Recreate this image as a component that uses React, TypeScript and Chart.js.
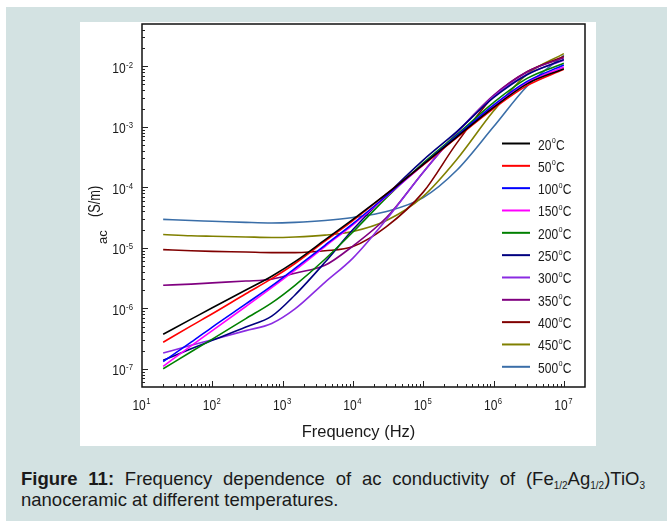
import React, { useEffect, useRef } from 'react';
import { Chart, registerables } from 'chart.js';

Chart.register(...registerables);

// ---------------- data ----------------
const frequencies = [20, 50, 100, 300, 700, 1500, 4000, 1e4, 3e4, 1e5, 3e5, 1e6, 3e6, 1e7];

const temperatures = ['20', '50', '100', '150', '200', '250', '300', '350', '400', '450', '500'];

const colors = [
  '#000000', '#ff0000', '#0000ff', '#ff00ff', '#008000', '#000080',
  '#8a2be2', '#800080', '#800000', '#808000', '#3a6ea8',
];

const sigma20 = [3.72e-7, 6.61e-7, 1.02e-6, 2.0e-6, 3.39e-6, 5.89e-6, 1.35e-5, 2.95e-5, 7.76e-5, 2.40e-4, 6.76e-4, 2.09e-3, 5.13e-3, 9.12e-3];
const sigma50 = [2.75e-7, 5.13e-7, 8.13e-7, 1.74e-6, 3.09e-6, 5.50e-6, 1.29e-5, 2.82e-5, 7.76e-5, 2.34e-4, 6.61e-4, 2.0e-3, 4.79e-3, 8.91e-3];
const sigma100 = [1.32e-7, 2.75e-7, 4.90e-7, 1.18e-6, 2.34e-6, 4.57e-6, 1.10e-5, 2.51e-5, 7.24e-5, 2.40e-4, 7.08e-4, 2.29e-3, 5.62e-3, 1.05e-2];
const sigma150 = [1.10e-7, 2.40e-7, 4.27e-7, 1.07e-6, 2.19e-6, 4.27e-6, 1.05e-5, 2.40e-5, 7.08e-5, 2.34e-4, 6.76e-4, 2.19e-3, 5.37e-3, 9.77e-3];
const sigma200 = [1.0e-7, 1.91e-7, 3.09e-7, 6.76e-7, 1.23e-6, 2.40e-6, 6.46e-6, 1.82e-5, 6.76e-5, 2.51e-4, 7.41e-4, 2.51e-3, 6.31e-3, 1.12e-2];
const sigma250 = [1.38e-7, 2.14e-7, 2.95e-7, 4.90e-7, 7.41e-7, 1.66e-6, 5.75e-6, 2.0e-5, 7.41e-5, 2.82e-4, 8.32e-4, 3.02e-3, 7.24e-3, 1.29e-2];
const sigma300 = [1.82e-7, 2.45e-7, 3.02e-7, 4.27e-7, 5.62e-7, 9.77e-7, 2.69e-6, 6.76e-6, 2.95e-5, 1.78e-4, 7.94e-4, 3.16e-3, 7.41e-3, 1.26e-2];
const sigma350 = [2.40e-6, 2.51e-6, 2.63e-6, 2.82e-6, 3.02e-6, 3.80e-6, 5.13e-6, 1.07e-5, 3.16e-5, 1.78e-4, 7.94e-4, 3.31e-3, 8.13e-3, 1.38e-2];
const sigma400 = [9.33e-6, 8.91e-6, 8.71e-6, 8.51e-6, 8.32e-6, 8.32e-6, 8.91e-6, 1.05e-5, 2.24e-5, 8.32e-5, 5.37e-4, 3.16e-3, 8.13e-3, 1.45e-2];
const sigma450 = [1.66e-5, 1.58e-5, 1.55e-5, 1.51e-5, 1.48e-5, 1.51e-5, 1.62e-5, 1.86e-5, 2.82e-5, 7.08e-5, 2.88e-4, 1.82e-3, 7.41e-3, 1.62e-2];
const sigma500 = [2.95e-5, 2.82e-5, 2.75e-5, 2.63e-5, 2.57e-5, 2.63e-5, 2.82e-5, 3.16e-5, 3.98e-5, 6.76e-5, 1.91e-4, 1.0e-3, 4.68e-3, 1.51e-2];

const seriesList = [sigma20, sigma50, sigma100, sigma150, sigma200, sigma250, sigma300, sigma350, sigma400, sigma450, sigma500];

const xTickExponents = [1, 2, 3, 4, 5, 6, 7];
const yTickExponents = [-7, -6, -5, -4, -3, -2];

const xTitle = 'Frequency (Hz)';
const yTitleSub = 'ac';
const yTitleMain = '(S/m)';

// ---------------- drawing helpers ----------------
const FONT = '"Liberation Sans", Arial, Helvetica, sans-serif';

function measure(ctx: CanvasRenderingContext2D, s: string, size: number, sx: number) {
  ctx.save();
  ctx.font = `${size}px ${FONT}`;
  const w = ctx.measureText(s).width * sx;
  ctx.restore();
  return w;
}

function text(ctx: CanvasRenderingContext2D, s: string, x: number, y: number, size: number, sx: number) {
  ctx.save();
  ctx.font = `${size}px ${FONT}`;
  ctx.textAlign = 'left';
  ctx.textBaseline = 'alphabetic';
  ctx.translate(x, y);
  ctx.scale(sx, 1);
  ctx.fillText(s, 0, 0);
  ctx.restore();
}

const overlay = {
  id: 'overlay',
  afterDraw(chart: any) {
    const ctx: CanvasRenderingContext2D = chart.ctx;
    const xs = chart.scales.x;
    const ys = chart.scales.y;
    const a = chart.chartArea;
    ctx.save();

    // frame
    ctx.strokeStyle = '#111';
    ctx.lineWidth = 1.5;
    ctx.strokeRect(a.left, a.top, a.right - a.left, a.bottom - a.top);

    // ticks (inward)
    ctx.lineWidth = 1;
    ctx.strokeStyle = '#222';
    const xmin = xs.min, xmax = xs.max;
    for (let e = Math.floor(Math.log10(xmin)); e <= Math.ceil(Math.log10(xmax)); e++) {
      for (let m = 1; m <= 9; m++) {
        const v = m * Math.pow(10, e);
        if (v <= xmin * 1.0001 || v >= xmax * 0.9999) continue;
        const px = Math.round(xs.getPixelForValue(v)) + 0.5;
        const len = m === 1 ? 6 : 3;
        ctx.beginPath();
        ctx.moveTo(px, a.bottom);
        ctx.lineTo(px, a.bottom - len);
        ctx.stroke();
      }
    }
    const ymin = ys.min, ymax = ys.max;
    for (let e = Math.floor(Math.log10(ymin)); e <= Math.ceil(Math.log10(ymax)); e++) {
      for (let m = 1; m <= 9; m++) {
        const v = m * Math.pow(10, e);
        if (v <= ymin * 1.0001 || v >= ymax * 0.9999) continue;
        const py = Math.round(ys.getPixelForValue(v)) + 0.5;
        const len = m === 1 ? 6 : 3;
        ctx.beginPath();
        ctx.moveTo(a.left, py);
        ctx.lineTo(a.left + len, py);
        ctx.stroke();
      }
    }

    // tick labels
    ctx.fillStyle = '#1a1a1a';
    const base = 14, sup = 9, sx = 0.86;
    for (const e of xTickExponents) {
      const px = xs.getPixelForValue(Math.pow(10, e));
      const w1 = measure(ctx, '10', base, sx);
      const es = String(e);
      const w2 = measure(ctx, es, sup, sx);
      const start = px - (w1 + w2 + 0.5) / 2 - 0.5;
      text(ctx, '10', start, a.bottom + 23, base, sx);
      text(ctx, es, start + w1 + 0.5, a.bottom + 17, sup, sx);
    }
    for (const e of yTickExponents) {
      const py = ys.getPixelForValue(Math.pow(10, e));
      const es = String(e);
      const w2 = measure(ctx, es, sup, sx);
      const w1 = measure(ctx, '10', base, sx);
      const right = a.left - 9;
      text(ctx, es, right - w2, py + 1.5, sup, sx);
      text(ctx, '10', right - w2 - 0.5 - w1, py + 6.5, base, sx);
    }

    // x title
    {
      const size = 16.5, s = 1.0;
      const w = measure(ctx, xTitle, size, s);
      const cx = (a.left + a.right) / 2 - 5;
      text(ctx, xTitle, cx - w / 2, a.bottom + 50, size, s);
    }

    // y title (rotated)
    ctx.save();
    ctx.rotate(-Math.PI / 2);
    ctx.font = `13px ${FONT}`;
    ctx.fillText(yTitleSub, -222, 27);
    ctx.restore();
    ctx.save();
    ctx.rotate(-Math.PI / 2);
    ctx.font = `16px ${FONT}`;
    ctx.scale(0.8, 1);
    ctx.fillText(yTitleMain, -195 / 0.8, 19.5);
    ctx.restore();

    // legend
    const lx0 = 422, lx1 = 450, tx = 458, ly0 = 121.5, dy = 22.33;
    chart.data.datasets.forEach((ds: any, i: number) => {
      const y = ly0 + dy * i;
      ctx.strokeStyle = ds.borderColor;
      ctx.lineWidth = 2;
      ctx.beginPath();
      ctx.moveTo(lx0, y);
      ctx.lineTo(lx1, y);
      ctx.stroke();
      ctx.fillStyle = '#1a1a1a';
      const ls = 0.86;
      const num = ds.label;
      const w1 = measure(ctx, num, 14, ls);
      text(ctx, num, tx, y + 6, 14, ls);
      const wo = measure(ctx, 'o', 8.5, ls);
      text(ctx, 'o', tx + w1 + 0.3, y - 0.5, 8.5, ls);
      text(ctx, 'C', tx + w1 + wo + 0.6, y + 6, 14, ls);
    });

    ctx.restore();
  },
};

export default function App() {
  const ref = useRef<HTMLCanvasElement>(null);

  useEffect(() => {
    const canvas = ref.current;
    if (!canvas) return;
    const chart = new Chart(canvas, {
      type: 'line',
      data: {
        datasets: seriesList.map((s, i) => ({
          label: temperatures[i],
          data: frequencies.map((f, j) => ({ x: f, y: s[j] })),
          borderColor: colors[i],
          backgroundColor: colors[i],
          borderWidth: 1.6,
          pointRadius: 0,
          cubicInterpolationMode: 'monotone' as const,
          fill: false,
        })),
      },
      options: {
        responsive: false,
        animation: false,
        events: [],
        layout: { padding: { left: 0, top: 2, right: 11, bottom: 0 } },
        plugins: { legend: { display: false }, tooltip: { enabled: false }, title: { display: false } },
        scales: {
          x: {
            type: 'logarithmic',
            min: 10,
            max: 2e7,
            grid: { display: false },
            border: { display: false },
            ticks: { display: false },
            afterFit: (s: any) => { s.height = 59; },
          },
          y: {
            type: 'logarithmic',
            min: 5e-8,
            max: 5e-2,
            grid: { display: false },
            border: { display: false },
            ticks: { display: false },
            afterFit: (s: any) => { s.width = 62; },
          },
        },
      } as any,
      plugins: [overlay],
    });
    return () => chart.destroy();
  }, []);

  const sub: React.CSSProperties = { fontSize: '10px', verticalAlign: '-4px', lineHeight: 0 };

  return (
    <div style={{ position: 'absolute', left: 0, top: 0, width: 667, height: 521, background: '#ffffff', overflow: 'hidden' }}>
      <div style={{ position: 'absolute', left: 6, top: 7, width: 661, height: 514, background: '#d3e2e2' }} />
      <div style={{ position: 'absolute', left: 80, top: 22, width: 516, height: 424, background: '#ffffff' }}>
        <canvas ref={ref} width={516} height={424} style={{ display: 'block', width: 516, height: 424 }} />
      </div>
      <div style={{ position: 'absolute', left: 21, top: 468, width: 624, fontFamily: FONT, fontSize: '18.5px', lineHeight: '21px', color: '#1a1a1a' }}>
        <div style={{ textAlign: 'justify', textAlignLast: 'justify' as any, whiteSpace: 'nowrap' as any }}>
          <b>Figure 11:</b> Frequency dependence of ac conductivity of (Fe<span style={sub}>1/2</span>Ag<span style={sub}>1/2</span>)TiO<span style={sub}>3</span>
        </div>
        <div>nanoceramic at different temperatures.</div>
      </div>
    </div>
  );
}
